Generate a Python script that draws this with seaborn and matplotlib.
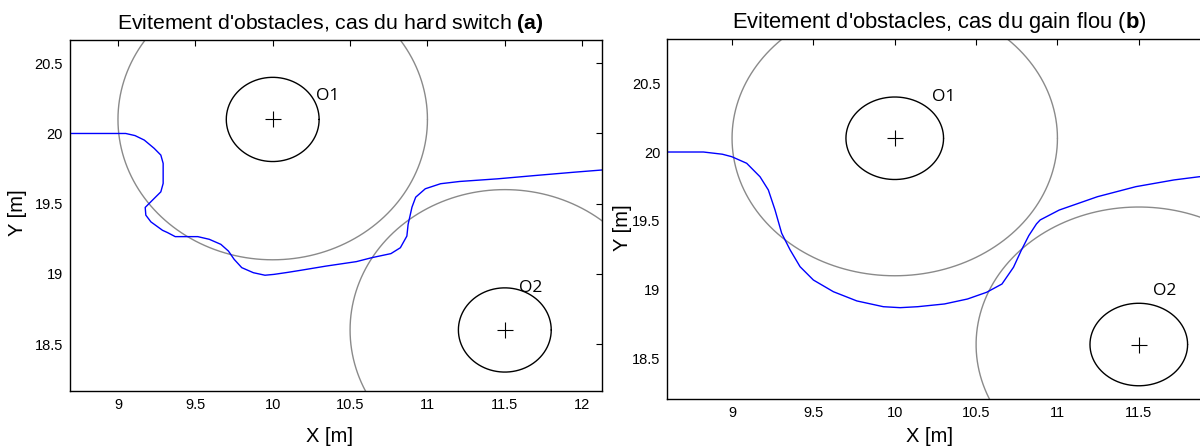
import numpy as np
import pandas as pd
import matplotlib
matplotlib.use("Agg")
import matplotlib.pyplot as plt
import seaborn as sns

# ---------------- data ----------------
obstacle_names = ["O1", "O2"]
obstacle_cx = [10.0, 11.5]
obstacle_cy = [20.1, 18.6]
inner_radius = [0.3, 0.3]
outer_radius = [1.0, 1.0]

# label positions (a) and (b)
label_a_x = [10.28, 11.59]
label_a_y = [20.27, 18.90]
label_b_x = [10.23, 11.59]
label_b_y = [20.40, 18.99]

# trajectory, hard switch (a)
path_a_x = [8.69, 9.05, 9.11, 9.17, 9.234, 9.277, 9.292, 9.292, 9.277, 9.234, 9.176,
            9.18, 9.213, 9.288, 9.32, 9.37, 9.516, 9.59, 9.665, 9.714, 9.751, 9.80,
            9.875, 9.95, 10.008, 10.095, 10.18, 10.344, 10.541, 10.64, 10.764, 10.825,
            10.867, 10.875, 10.9, 10.924, 10.986, 11.085, 11.208, 11.455, 11.702,
            11.948, 12.13]
path_a_y = [20.0, 20.0, 19.985, 19.953, 19.894, 19.846, 19.787, 19.644, 19.584, 19.537, 19.473,
            19.418, 19.37, 19.31, 19.294, 19.265, 19.265, 19.246, 19.21, 19.162, 19.103, 19.044,
            19.008, 18.99, 18.996, 19.01, 19.025, 19.055, 19.087, 19.115, 19.144, 19.186,
            19.269, 19.352, 19.475, 19.546, 19.606, 19.642, 19.658, 19.677, 19.701,
            19.724, 19.74]

# trajectory, fuzzy gain (b)
path_b_x = [8.60, 8.824, 8.94, 8.998, 9.09, 9.172, 9.223, 9.264, 9.305, 9.357, 9.418,
            9.50, 9.623, 9.767, 9.93, 10.033, 10.141, 10.306, 10.447, 10.565, 10.659,
            10.73, 10.777, 10.824, 10.871, 10.894, 11.011, 11.246, 11.482, 11.717,
            11.87, 11.95]
path_b_y = [20.0, 20.0, 19.984, 19.966, 19.918, 19.82, 19.724, 19.579, 19.409, 19.288, 19.166,
            19.069, 18.984, 18.917, 18.875, 18.868, 18.875, 18.895, 18.931, 18.98, 19.04,
            19.162, 19.283, 19.392, 19.477, 19.506, 19.578, 19.675, 19.748, 19.797,
            19.82, 19.83]

xticks_a = [9, 9.5, 10, 10.5, 11, 11.5, 12]
xticks_b = [9, 9.5, 10, 10.5, 11, 11.5]
yticks = [18.5, 19, 19.5, 20, 20.5]

title_a = r"Evitement d'obstacles, cas du hard switch $\mathbf{(a)}$"
title_b = r"Evitement d'obstacles, cas du gain flou ($\mathbf{b}$)"

# ---------------- style ----------------
sns.set_theme(style="white")
plt.rcParams["font.family"] = ["Liberation Sans", "DejaVu Sans"]
plt.rcParams["mathtext.fontset"] = "custom"
plt.rcParams["mathtext.rm"] = "Liberation Sans"
plt.rcParams["mathtext.bf"] = "Liberation Sans:bold"
plt.rcParams["axes.edgecolor"] = "black"
plt.rcParams["axes.linewidth"] = 1.0
plt.rcParams["text.color"] = "black"
plt.rcParams["axes.labelcolor"] = "black"
plt.rcParams["xtick.color"] = "black"
plt.rcParams["ytick.color"] = "black"

fig = plt.figure(figsize=(12, 4.48), dpi=100)
W, H = 1200, 448
ax1 = fig.add_axes([70 / W, 1 - 391.3 / H, (602.3 - 70) / W, (391.3 - 40) / H])
ax2 = fig.add_axes([667.3 / W, 1 - 398.7 / H, (1212 - 667.3) / W, (398.7 - 38.7) / H])

theta = np.linspace(0, 2 * np.pi, 361)


def draw_panel(ax, px, py, lx, ly, xlim, ylim, xticks, title, title_size, title_x,
               xlab_pos, ylab_pos):
    for cx, cy, ri, ro in zip(obstacle_cx, obstacle_cy, inner_radius, outer_radius):
        circ_o = pd.DataFrame({"x": cx + ro * np.cos(theta), "y": cy + ro * np.sin(theta)})
        sns.lineplot(data=circ_o, x="x", y="y", ax=ax, sort=False, estimator=None,
                     color="#8a8a8a", lw=1.0)
        circ_i = pd.DataFrame({"x": cx + ri * np.cos(theta), "y": cy + ri * np.sin(theta)})
        sns.lineplot(data=circ_i, x="x", y="y", ax=ax, sort=False, estimator=None,
                     color="black", lw=1.0)
    centers = pd.DataFrame({"x": obstacle_cx, "y": obstacle_cy})
    sns.scatterplot(data=centers, x="x", y="y", ax=ax, marker="+", color="black",
                    s=120, linewidth=0.8)
    path = pd.DataFrame({"x": px, "y": py})
    sns.lineplot(data=path, x="x", y="y", ax=ax, sort=False, estimator=None,
                 color="#0000ff", lw=1.0)
    for name, tx, ty in zip(obstacle_names, lx, ly):
        ax.text(tx, ty, name, fontsize=12.5, family=["Open Sans", "DejaVu Sans"],
                ha="left", va="center", color="black")
    ax.set_xlim(*xlim)
    ax.set_ylim(*ylim)
    ax.set_xticks(xticks)
    ax.set_xticklabels([f"{t:g}" for t in xticks])
    ax.set_yticks(yticks)
    ax.set_yticklabels([f"{t:g}" for t in yticks])
    ax.tick_params(direction="in", top=True, right=True, length=4, width=0.8,
                   labelsize=10.5, colors="black", pad=5)
    ax.set_xlabel("X [m]", fontsize=14.5, va="center")
    ax.xaxis.set_label_coords(*xlab_pos)
    ax.set_ylabel("Y [m]", fontsize=14.5, va="center")
    ax.yaxis.set_label_coords(*ylab_pos)
    ax.set_title(title, fontsize=title_size, pad=8, color="black", x=title_x)
    for s in ax.spines.values():
        s.set_visible(True)
        s.set_color("black")


draw_panel(ax1, path_a_x, path_a_y, label_a_x, label_a_y,
           (8.69, 12.13), (18.163, 20.666), xticks_a, title_a, 15.3, 0.489,
           (0.488, -0.130), (-0.098, 0.508))
draw_panel(ax2, path_b_x, path_b_y, label_b_x, label_b_y,
           (8.602, 11.95), (18.206, 20.824), xticks_b, title_b, 15.8, 0.5,
           (0.482, -0.106), (-0.083, 0.475))

fig.savefig("out.png", dpi=100)
